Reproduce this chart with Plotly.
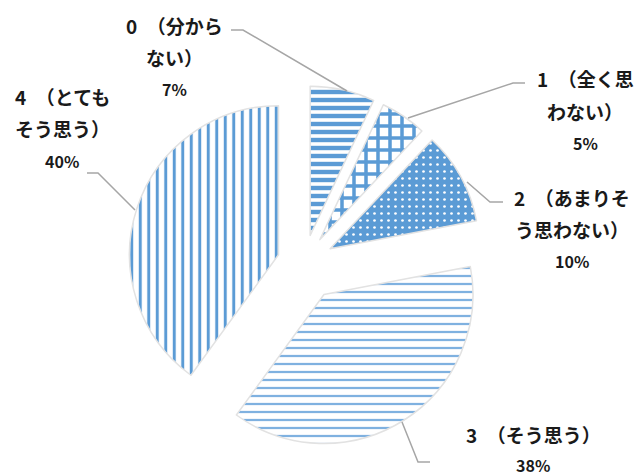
import plotly.graph_objects as go

# ---- data ----
categories = ["0（分からない）", "1（全く思わない）", "2（あまりそう思わない）", "3（そう思う）", "4（とてもそう思う）"]
values = [7, 5, 10, 38, 40]
label_lines = [
    ["0\u2002（分から", "ない）", "7%"],
    ["1\u2002（全く思", "わない）", "5%"],
    ["2\u2002（あまりそ", "う思わない）", "10%"],
    ["3\u2002（そう思う）", "38%"],
    ["4\u2002（とても", "そう思う）", "40%"],
]
pulls = [0.19, 0.19, 0.2, 0.25, 0.18]

W, H = 641, 476
BLUE = "#5B9BD5"

def px(x, y):
    return x / W, 1 - y / H

patterns = [
    dict(shape="-", fgcolor=BLUE, bgcolor="white", size=8, solidity=0.55),
    dict(shape="+", fgcolor=BLUE, bgcolor="white", size=12, solidity=0.5),
    dict(shape=".", fgcolor="white", bgcolor=BLUE, size=7, solidity=0.12),
    dict(shape="-", fgcolor="#7FB1E0", bgcolor="white", size=8, solidity=0.28),
    dict(shape="|", fgcolor=BLUE, bgcolor="white", size=8.5, solidity=0.35),
]

cx, cy, R = 304, 263, 149
ext = R * (1 + max(pulls))
dom_x = [(cx - ext) / W, (cx + ext) / W]
dom_y = [1 - (cy + ext) / H, 1 - (cy - ext) / H]

fig = go.Figure()
fig.add_trace(go.Pie(
    labels=categories, values=values, sort=False, direction="clockwise", rotation=0,
    pull=pulls, textinfo="none", hoverinfo="label+percent",
    marker=dict(colors=["white"] * 5, line=dict(color="#E2E2E2", width=1.5),
                pattern=dict(shape=[p["shape"] for p in patterns],
                             fgcolor=[p["fgcolor"] for p in patterns],
                             bgcolor=[p["bgcolor"] for p in patterns],
                             size=[p["size"] for p in patterns],
                             solidity=[p["solidity"] for p in patterns],
                             fillmode="replace")),
    domain=dict(x=dom_x, y=dom_y),
    showlegend=False,
))

# label positions (centre x, first line y) and leader paths in pixel space
label_pos = [(174, 25), (585, 79), (572, 197), (533, 434), (62, 97)]
line_gap = 32
leaders = [
    [(231, 30), (243, 30), (347, 91)],
    [(525, 83), (513, 83), (408, 118)],
    [(467, 182), (490, 202), (503, 202)],
    [(402, 422), (418, 462), (430, 462)],
    [(87, 173), (98, 173), (135, 210)],
]

annotations = []
for lines, (lx, ly) in zip(label_lines, label_pos):
    for i, t in enumerate(lines):
        is_pct = t.endswith("%")
        fs = 16 if is_pct else 19
        yc = min(ly + i * line_gap, H - fs * 0.66)
        xx, yy = px(lx, yc)
        annotations.append(dict(
            x=xx, y=yy, xref="paper", yref="paper", text="<b>" + t + "</b>", showarrow=False,
            xanchor="center", yanchor="middle", borderpad=0,
            font=dict(family="Noto Sans CJK JP", size=fs, color="#1A1A1A"),
        ))

shapes = []
for pts in leaders:
    path = ""
    for j, (x, y) in enumerate(pts):
        xx, yy = px(x, y)
        path += ("M" if j == 0 else "L") + f"{xx},{yy} "
    shapes.append(dict(type="path", xref="paper", yref="paper", path=path.strip(),
                       line=dict(color="#A6A6A6", width=1.5)))

fig.update_layout(
    width=W, height=H, margin=dict(l=0, r=0, t=0, b=0),
    paper_bgcolor="white", plot_bgcolor="white",
    annotations=annotations, shapes=shapes,
)

fig.write_html("out.html", config={"displayModeBar": False},
               post_script="document.body.style.margin='0';document.body.style.overflow='hidden';")
